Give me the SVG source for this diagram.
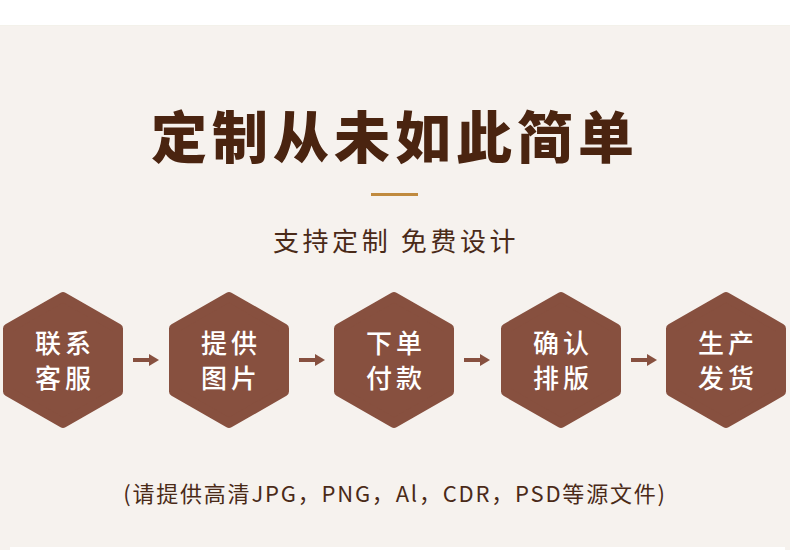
<svg xmlns="http://www.w3.org/2000/svg" xmlns:xlink="http://www.w3.org/1999/xlink" width="790" height="550" viewBox="0 0 790 550">
<style>
.hex{fill:#87503F;stroke:#87503F;stroke-width:10;stroke-linejoin:round}
.lbl{font-family:"Noto Sans CJK SC","Noto Sans",sans-serif;font-size:26px;font-weight:500;fill:#ffffff;text-anchor:middle;letter-spacing:4px}
.conn{stroke:#87503F;stroke-width:4;fill:none}
.title{font-family:"Noto Sans CJK SC",sans-serif;font-size:56px;font-weight:900;fill:#4A2410;text-anchor:middle;letter-spacing:5px}
.sub{font-family:"Noto Sans CJK SC",sans-serif;font-size:26px;font-weight:400;fill:#4A2A18;text-anchor:middle;letter-spacing:3.6px}
.note{font-family:"Noto Sans CJK SC",sans-serif;font-size:22px;font-weight:400;fill:#4A2A18;text-anchor:middle;letter-spacing:1.8px}
</style>
<defs>
<polygon id="hx" class="hex" points="0,-63 55,-31.5 55,31.5 0,63 -55,31.5 -55,-31.5"/>
<marker id="ah" markerUnits="userSpaceOnUse" markerWidth="10" markerHeight="12" refX="0" refY="6" orient="auto">
<path d="M0,0 L10,6 L0,12 Z" fill="#87503F"/>
</marker>
</defs>
<rect x="0" y="0" width="790" height="550" fill="#ffffff"/>
<rect x="0" y="25" width="790" height="525" fill="#F6F2EE"/>
<rect x="0" y="25" width="790" height="1" fill="#F3F1EA"/>
<rect x="10" y="547" width="775" height="3" fill="#ffffff"/>

<g id="title">
<text class="title" x="395" y="158">定制从未如此简单</text>
<rect x="371" y="193" width="47" height="3" fill="#C08A3E"/>
</g>
<g id="subtitle">
<text class="sub" x="396" y="251">支持定制 免费设计</text>
</g>

<g id="connectors">
<line class="conn" x1="133" y1="360" x2="149" y2="360" marker-end="url(#ah)"/>
<line class="conn" x1="299" y1="360" x2="315" y2="360" marker-end="url(#ah)"/>
<line class="conn" x1="464" y1="360" x2="480" y2="360" marker-end="url(#ah)"/>
<line class="conn" x1="631" y1="360" x2="647" y2="360" marker-end="url(#ah)"/>
</g>

<g id="node1" transform="translate(63,360)">
<use xlink:href="#hx"/>
<text class="lbl" x="2" y="-7">联系</text>
<text class="lbl" x="2" y="28">客服</text>
</g>
<g id="node2" transform="translate(229,360)">
<use xlink:href="#hx"/>
<text class="lbl" x="2" y="-7">提供</text>
<text class="lbl" x="2" y="28">图片</text>
</g>
<g id="node3" transform="translate(394,360)">
<use xlink:href="#hx"/>
<text class="lbl" x="2" y="-7">下单</text>
<text class="lbl" x="2" y="28">付款</text>
</g>
<g id="node4" transform="translate(561,360)">
<use xlink:href="#hx"/>
<text class="lbl" x="2" y="-7">确认</text>
<text class="lbl" x="2" y="28">排版</text>
</g>
<g id="node5" transform="translate(726,360)">
<use xlink:href="#hx"/>
<text class="lbl" x="2" y="-7">生产</text>
<text class="lbl" x="2" y="28">发货</text>
</g>

<g id="note">
<text class="note" x="395" y="502">(请提供高清JPG，PNG，Al，CDR，PSD等源文件)</text>
</g>
</svg>
